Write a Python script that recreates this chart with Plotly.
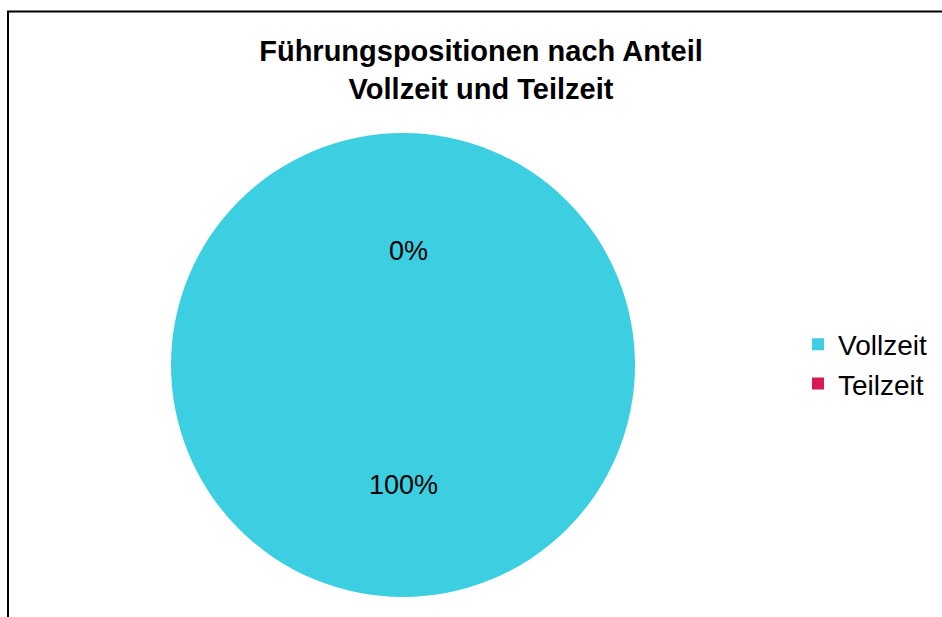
import plotly.graph_objects as go

labels = ["Vollzeit", "Teilzeit"]
values = [100, 0]
colors = ["#3CCFE2", "#D81B55"]

total = sum(values)
shares = [round(100 * v / total) for v in values]

W, H = 942, 617

fig = go.Figure()
fig.add_trace(go.Pie(
    labels=labels,
    values=values,
    marker=dict(colors=colors),
    sort=False,
    direction="clockwise",
    rotation=90,
    textinfo="none",
    hoverinfo="label+percent",
    domain=dict(x=[171 / W, 635 / W], y=[20 / H, 484 / H]),
))

# data labels: small slice near the top, large slice in the lower half
label_pos = {"Teilzeit": (408, 251), "Vollzeit": (403, 485)}
for lab, share in zip(labels, shares):
    px, py = label_pos[lab]
    fig.add_annotation(
        x=px / W, y=1 - py / H, xref="paper", yref="paper", showarrow=False,
        xanchor="center", yanchor="middle",
        text=f"{share}%", font=dict(size=27, color="#000000"),
    )

# chart frame
fig.add_shape(
    type="rect", xref="paper", yref="paper",
    x0=8 / W, x1=1.02, y0=-0.02, y1=1 - 11.5 / H,
    line=dict(color="#000000", width=2),
)

fig.update_layout(
    width=W, height=H,
    margin=dict(l=0, r=0, t=0, b=0),
    paper_bgcolor="white",
    font=dict(family="Arial, Liberation Sans", color="#000000"),
    title=dict(
        text="<b>Führungspositionen nach Anteil<br>Vollzeit und Teilzeit</b>",
        x=481 / W, xanchor="center", y=1 - 61 / H, yanchor="top",
        font=dict(size=29, color="#000000"),
    ),
    legend=dict(
        x=798 / W, xanchor="left", y=1 - 364 / H, yanchor="middle",
        font=dict(size=28), itemwidth=30,
    ),
)

fig.write_html("out.html", config={"displayModeBar": False},
               post_script="document.body.style.margin='0';")
